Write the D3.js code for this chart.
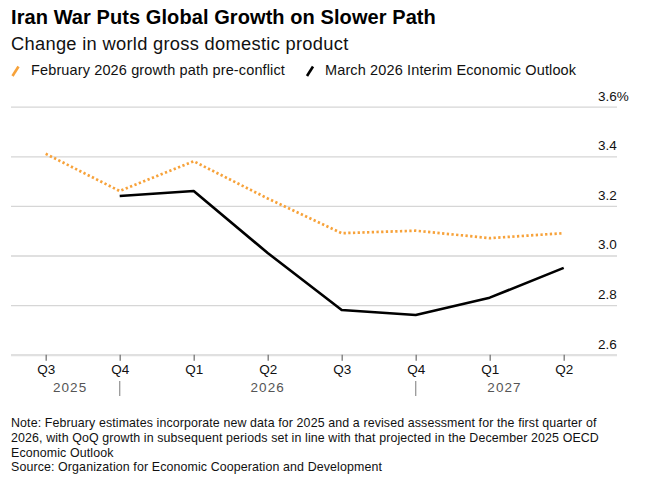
<!DOCTYPE html>
<html><head><meta charset="utf-8">
<script src="https://cdn.jsdelivr.net/npm/d3@7"></script>
<style>
body{margin:0;background:#fff;}
svg{display:block;font-family:"Liberation Sans",Arial,sans-serif;}
</style></head>
<body><svg id="c" width="645" height="483"></svg>
<script>
const quarters = ["Q3","Q4","Q1","Q2","Q3","Q4","Q1","Q2"];
const years = ["2025","2026","2027"];
const februaryPath = [3.41,3.26,3.38,3.23,3.09,3.10,3.07,3.09];
const marchOutlook = [null,3.24,3.26,3.01,2.78,2.76,2.83,2.95];
const yTicks = [2.6,2.8,3.0,3.2,3.4,3.6];
const notes = [
 "Note: February estimates incorporate new data for 2025 and a revised assessment for the first quarter of",
 "2026, with QoQ growth in subsequent periods set in line with that projected in the December 2025 OECD",
 "Economic Outlook",
 "Source: Organization for Economic Cooperation and Development"
];

const svg = d3.select("#c");
const x = d3.scaleLinear().domain([0,7]).range([45.7,563.7]);
const y = d3.scaleLinear().domain([2.6,3.6]).range([354.7,106.7]);
const left = 11, right = 617;
const FONT = "Liberation Sans, Arial, sans-serif";

// title
svg.append("text").attr("x",11).attr("y",24).attr("font-size",20).attr("font-weight","bold")
  .attr("letter-spacing",0.08).attr("fill","#000").text("Iran War Puts Global Growth on Slower Path");
svg.append("text").attr("x",11).attr("y",50).attr("font-size",18.3).attr("letter-spacing",0.3)
  .attr("fill","#111").text("Change in world gross domestic product");

// legend
const lg = svg.append("g");
lg.append("line").attr("x1",12.5).attr("y1",76).attr("x2",18.5).attr("y2",66.5).attr("stroke","#f7a23a").attr("stroke-width",2.6);
lg.append("text").attr("x",31).attr("y",74.5).attr("font-size",14.5).attr("letter-spacing",0.13).attr("fill","#111").text("February 2026 growth path pre-conflict");
lg.append("line").attr("x1",307).attr("y1",76).attr("x2",313).attr("y2",66.5).attr("stroke","#000").attr("stroke-width",2.6);
lg.append("text").attr("x",325).attr("y",74.5).attr("font-size",14.5).attr("letter-spacing",0.13).attr("fill","#111").text("March 2026 Interim Economic Outlook");

// gridlines + y labels
const yAxis = d3.axisRight(y).tickValues(yTicks).tickSize(right-left)
  .tickFormat(d=> d3.format(".1f")(d) + (d===3.6?"%":""));
const ga = svg.append("g").attr("transform",`translate(${left},0)`).call(yAxis);
ga.select(".domain").remove();
ga.selectAll(".tick line").attr("stroke",d=>d===2.6?"#e0e0e0":"#d6d6d6").attr("stroke-width",d=>d===2.6?2.2:1.3);
ga.selectAll(".tick text").attr("x",587).attr("dy",-6.7).attr("text-anchor","start")
  .attr("font-size",13.5).attr("fill","#111").attr("font-family",FONT);

// x axis
const xAxis = d3.axisBottom(x).tickValues(d3.range(quarters.length)).tickSize(6).tickPadding(4)
  .tickFormat(i=>quarters[i]);
const gx = svg.append("g").attr("transform","translate(0,354.7)").call(xAxis);
gx.select(".domain").remove();
gx.selectAll(".tick line").attr("stroke","#777").attr("stroke-width",1.3);
gx.selectAll(".tick text").attr("font-size",13.5).attr("fill","#111").attr("font-family",FONT);

// year labels and separators
[1,5].forEach(i=>{
  svg.append("line").attr("x1",x(i)).attr("x2",x(i)).attr("y1",381).attr("y2",396).attr("stroke","#999").attr("stroke-width",1.3);
});
const yearAt = [0.33, 3, 6.2];
years.forEach((t,i)=>{
  svg.append("text").attr("x",x(yearAt[i])).attr("y",391.7).attr("text-anchor","middle")
    .attr("font-size",13.5).attr("fill","#555").attr("letter-spacing",1.1).text(t);
});

// lines
const line = d3.line().defined(d=>d!=null).x((d,i)=>x(i)).y(d=>y(d));
svg.append("path").datum(februaryPath).attr("d",line).attr("fill","none")
  .attr("stroke","#f7a23a").attr("stroke-width",2.7).attr("stroke-dasharray","2.3,2.4");
svg.append("path").datum(marchOutlook).attr("d",line).attr("fill","none")
  .attr("stroke","#000").attr("stroke-width",2.6).attr("stroke-linejoin","round");

// notes
notes.forEach((t,i)=>{
  svg.append("text").attr("x",11).attr("y",[427,442,456.5,471][i]).attr("font-size",12.4)
    .attr("letter-spacing",0.12).attr("fill","#111").text(t);
});
</script></body></html>
